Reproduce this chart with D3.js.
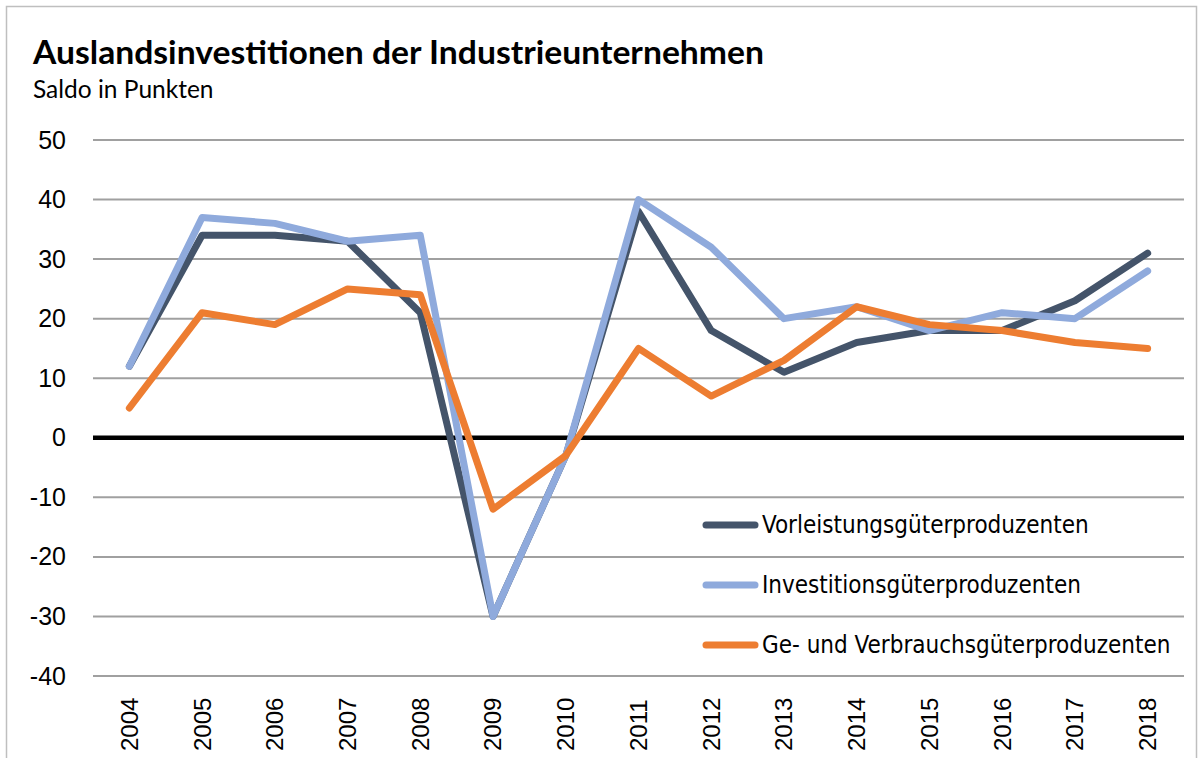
<!DOCTYPE html>
<html>
<head>
<meta charset="utf-8">
<script src="https://cdn.jsdelivr.net/npm/d3@7"></script>
<style>
  body { margin: 0; background: #fff; }
  svg { display: block; }
</style>
</head>
<body>
<svg id="chart" width="1204" height="758"></svg>
<script>
// data
let years = ["2004","2005","2006","2007","2008","2009","2010","2011","2012","2013","2014","2015","2016","2017","2018"];
let vorleistung = [12, 34, 34, 33, 21, -30, -3, 38, 18, 11, 16, 18, 18, 23, 31];
let investition = [12, 37, 36, 33, 34, -30, -3, 40, 32, 20, 22, 18, 21, 20, 28];
let verbrauch   = [5, 21, 19, 25, 24, -12, -3, 15, 7, 13, 22, 19, 18, 16, 15];
let seriesNames = ["Vorleistungsgüterproduzenten", "Investitionsgüterproduzenten", "Ge- und Verbrauchsgüterproduzenten"];
let seriesColors = ["#44546A", "#8FAADC", "#ED7D31"];
let yTicks = [50, 40, 30, 20, 10, 0, -10, -20, -30, -40];

let narrow = "'DejaVu Sans Condensed', 'Liberation Sans Narrow', sans-serif";
let svg = d3.select("#chart");

// outer frame
svg.append("rect")
  .attr("x", 6.5).attr("y", 6.5)
  .attr("width", 1190).attr("height", 760)
  .attr("fill", "none").attr("stroke", "#BFBFBF").attr("stroke-width", 1.5);

svg.append("text")
  .attr("x", 33).attr("y", 64)
  .attr("textLength", 731).attr("lengthAdjust", "spacingAndGlyphs")
  .style("font-family", "Lato, sans-serif").style("font-size", "33px")
  .style("font-weight", "700")
  .style("fill", "#000")
  .text("Auslandsinvestitionen der Industrieunternehmen");

svg.append("text")
  .attr("x", 33).attr("y", 98)
  .style("font-family", "Lato, sans-serif").style("font-size", "24.5px")
  .style("fill", "#000")
  .text("Saldo in Punkten");

let margin = { left: 93, right: 20, top: 140, bottom: 82 };
let plotWidth = 1184 - margin.left;
let plotHeight = 676 - margin.top;

let x = d3.scaleBand().domain(years).range([0, plotWidth]);
let y = d3.scaleLinear().domain([-40, 50]).range([plotHeight, 0]);

let plot = svg.append("g").attr("transform", "translate(" + margin.left + "," + margin.top + ")");

// grid lines
plot.append("g").selectAll("line")
  .data(yTicks.filter(d => d !== 0))
  .enter().append("line")
  .attr("x1", 0).attr("x2", plotWidth)
  .attr("y1", d => y(d)).attr("y2", d => y(d))
  .attr("stroke", "#A0A0A0").attr("stroke-width", 2);

// y axis labels
let yAxis = d3.axisLeft(y).tickValues(yTicks).tickSize(0).tickPadding(27);
let yGroup = plot.append("g").call(yAxis);
yGroup.select(".domain").remove();
yGroup.selectAll("text")
  .style("font-family", "'Liberation Sans', Arial, sans-serif")
  .style("font-size", "25px").style("fill", "#000")
  .text(d => d < 0 ? "-" + Math.abs(d) : d);

// x axis labels (rotated)
let xAxis = d3.axisBottom(x).tickSize(0);
let xGroup = plot.append("g").attr("transform", "translate(0," + plotHeight + ")").call(xAxis);
xGroup.select(".domain").remove();
xGroup.selectAll("text")
  .attr("transform", "rotate(-90)")
  .attr("x", -75).attr("y", 0).attr("dy", "0.35em")
  .style("text-anchor", "start")
  .style("font-family", "'Liberation Sans', Arial, sans-serif")
  .style("font-size", "24px").style("fill", "#000");

// zero line
plot.append("line")
  .attr("x1", 0).attr("x2", plotWidth)
  .attr("y1", y(0)).attr("y2", y(0))
  .attr("stroke", "#000").attr("stroke-width", 4.5);

let line = d3.line()
  .x((d, i) => x(years[i]) + x.bandwidth() / 2)
  .y(d => y(d));

[vorleistung, investition, verbrauch].forEach(function(vals, k) {
  plot.append("path")
    .datum(vals)
    .attr("d", line)
    .attr("fill", "none")
    .attr("stroke", seriesColors[k])
    .attr("stroke-width", 7)
    .attr("stroke-linejoin", "round")
    .attr("stroke-linecap", "round");
});

// legend
let legendY = [525, 585, 645];
let legend = svg.append("g");
seriesNames.forEach(function(name, k) {
  legend.append("line")
    .attr("x1", 706).attr("x2", 755)
    .attr("y1", legendY[k]).attr("y2", legendY[k])
    .attr("stroke", seriesColors[k]).attr("stroke-width", 7)
    .attr("stroke-linecap", "round");
  legend.append("text")
    .attr("x", 762).attr("y", legendY[k] + 8)
    .style("font-family", narrow).style("font-size", "24px")
    .style("fill", "#000")
    .text(name);
});
</script>
</body>
</html>
